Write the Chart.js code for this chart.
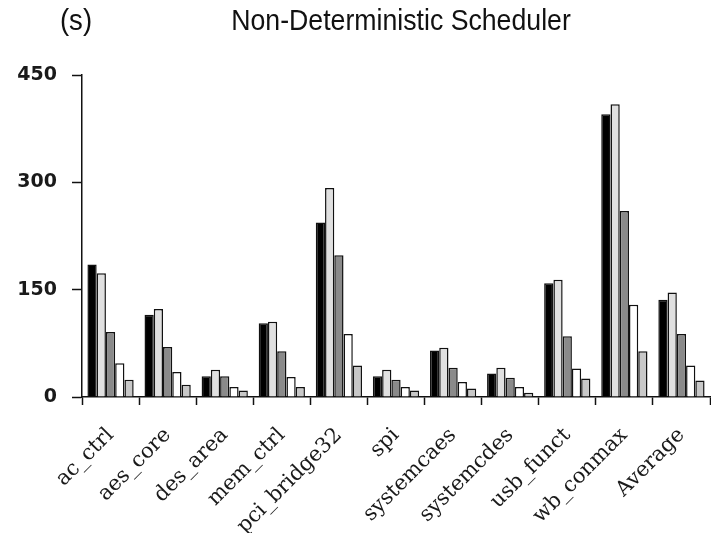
<!DOCTYPE html>
<html>
<head>
<meta charset="utf-8">
<script src="https://cdn.jsdelivr.net/npm/chart.js@4"></script>
<style>
  html, body { margin: 0; padding: 0; background: #fff; }
  #wrap { width: 711px; height: 533px; position: relative; }
</style>
</head>
<body>
<div id="wrap"><canvas id="c"></canvas></div>
<script>
// Benchmarks (x categories)
const categories = ['ac_ctrl', 'aes_core', 'des_area', 'mem_ctrl', 'pci_bridge32', 'spi',
                    'systemcaes', 'systemcdes', 'usb_funct', 'wb_conmax', 'Average'];

// Run time in seconds for each of the five configurations
const series1 = [185, 115, 29, 103, 244, 29, 65, 33, 159, 395, 136];
const series2 = [173, 123, 38, 105, 292, 38, 69, 41, 164, 409, 146];
const series3 = [91, 70, 29, 64, 198, 24, 41, 27, 85, 260, 88];
const series4 = [47, 35, 14, 28, 88, 14, 21, 14, 40, 129, 44];
const series5 = [24, 17, 9, 14, 44, 9, 12, 6, 26, 64, 23];

// Y axis ticks
const yTicks = [0, 150, 300, 450];

const fills = ['#000000', '#e0e0e0', '#8a8a8a', '#ffffff', '#c8c8c8'];
const allSeries = [series1, series2, series3, series4, series5];

const datasets = allSeries.map((vals, i) => ({
  label: 'S' + (i + 1),
  data: vals,
  backgroundColor: fills[i],
  borderColor: '#111',
  borderWidth: 1.5,
  borderSkipped: 'bottom',
  categoryPercentage: 0.81,
  barPercentage: 1.0
}));

// Header texts: unit label and chart title (slightly narrowed Arial-style face)
const headerPlugin = {
  id: 'header',
  afterDraw(chart) {
    const ctx = chart.ctx;
    ctx.save();
    ctx.fillStyle = '#111';
    ctx.textBaseline = 'middle';
    ctx.textAlign = 'center';
    ctx.font = '29px "Liberation Sans", Arial, sans-serif';
    ctx.save();
    ctx.translate(76, 22);
    ctx.scale(0.95, 1);
    ctx.fillText('(s)', 0, 0);
    ctx.restore();
    ctx.save();
    ctx.translate(401, 22);
    ctx.scale(0.92, 1);
    ctx.fillText('Non-Deterministic Scheduler', 0, 0);
    ctx.restore();
    ctx.restore();
  }
};

new Chart(document.getElementById('c'), {
  type: 'bar',
  data: { labels: categories, datasets },
  options: {
    responsive: true,
    maintainAspectRatio: false,
    animation: false,
    layout: { padding: { top: 75, right: 1, left: 0, bottom: 0 } },
    plugins: {
      legend: { display: false },
      title: { display: false },
      tooltip: { enabled: false }
    },
    scales: {
      x: {
        offset: true,
        grid: {
          offset: true,
          drawOnChartArea: false,
          drawTicks: true,
          tickLength: 8,
          tickWidth: 1.5,
          tickColor: '#111'
        },
        border: { display: true, color: '#111', width: 1.5 },
        ticks: {
          autoSkip: false,
          maxRotation: 45,
          minRotation: 45,
          padding: 18,
          color: '#1a1a1a',
          font: { family: '"DejaVu Serif", serif', size: 21 }
        },
        afterFit(scale) {
          scale.height = 136;
          scale.paddingLeft = 0;
          scale.paddingRight = 0;
        }
      },
      y: {
        min: 0,
        max: 450,
        afterBuildTicks(scale) { scale.ticks = yTicks.map(v => ({ value: v })); },
        grid: {
          drawOnChartArea: false,
          drawTicks: true,
          tickLength: 10,
          tickWidth: 1.5,
          tickColor: '#111'
        },
        border: { display: true, color: '#111', width: 1.5 },
        ticks: {
          padding: 15,
          color: '#1a1a1a',
          font: { family: '"DejaVu Sans", sans-serif', size: 19, weight: 'bold' }
        },
        afterFit(scale) { scale.width = 82; }
      }
    }
  },
  plugins: [headerPlugin]
});
</script>
</body>
</html>
